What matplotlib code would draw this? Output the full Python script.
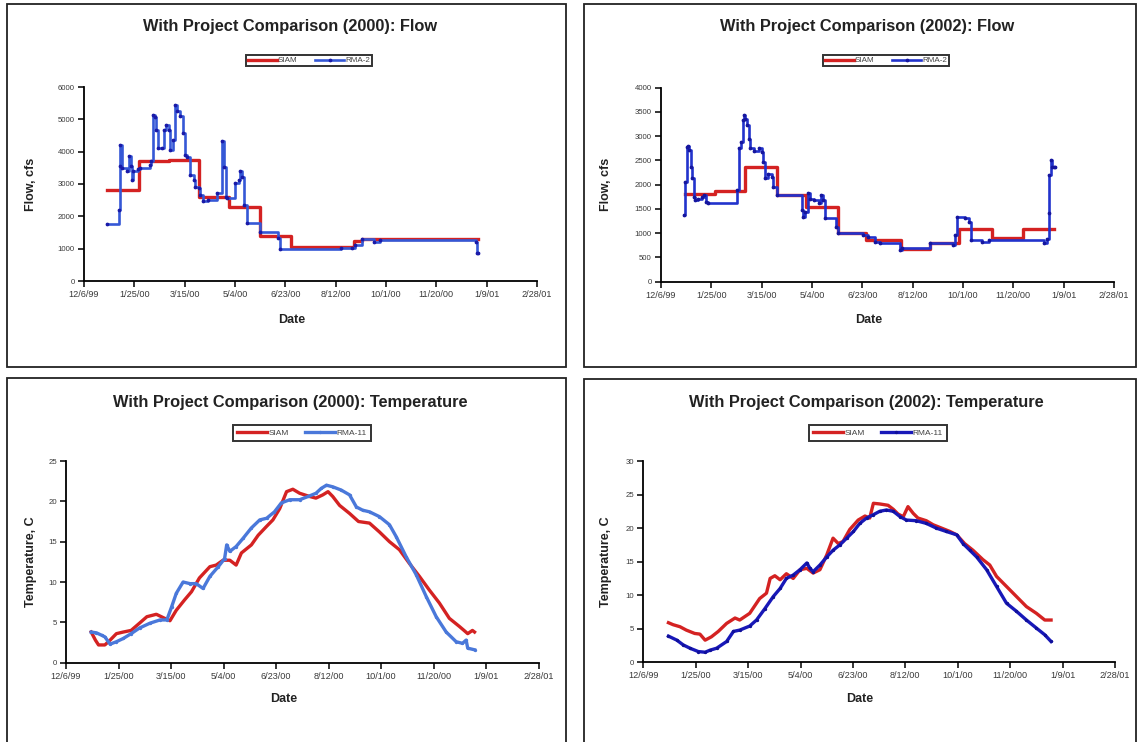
import matplotlib
matplotlib.use("Agg")
import matplotlib.pyplot as plt
from matplotlib.patches import Rectangle
from matplotlib.ticker import FormatStrFormatter
from datetime import datetime
import numpy as np
import pandas as pd

plt.rcParams['font.family'] = ['Liberation Sans', 'DejaVu Sans']

# ---------------------------------------------------------------- data
# day offsets are days from 1 Jan 2000
tick_labels = ['12/6/99', '1/25/00', '3/15/00', '5/4/00', '6/23/00',
               '8/12/00', '10/1/00', '11/20/00', '1/9/01', '2/28/01']

# Flow, 2000 run
flow00_siam_day = [-3, 29, 58, 88, 118, 149, 180, 242, 250, 365]
flow00_siam = [2800, 3700, 3750, 2600, 2300, 1400, 1050, 1250, 1300, 1300]

flow00_rma_day = [-3, 9, 9.5, 10, 11.5, 16.5, 19, 20.5, 22, 23, 28, 30, 40, 41,
                  43, 44.5, 46, 48, 51, 53, 55.5, 58, 59.5, 62, 64.5, 66, 69.5,
                  72.5, 74.5, 76, 79.5, 83, 84.5, 88, 89.5, 92.5, 97.5, 106.5,
                  111, 113, 115, 116, 124, 127.5, 129, 131, 132.5, 136, 149,
                  167, 168.5, 229, 240, 243, 250, 262, 268.5, 363, 364.5, 365.5]
flow00_rma = [1750, 2200, 3550, 4200, 3500, 3400, 3870, 3550, 3130, 3400, 3450,
              3500, 3600, 3700, 5130, 5080, 4680, 4100, 4110, 4680, 4830, 4680,
              4060, 4370, 5450, 5250, 5100, 4580, 3900, 3830, 3290, 3130, 2920,
              2870, 2670, 2460, 2520, 2720, 4320, 3540, 2610, 2560, 3030, 3130,
              3390, 3230, 2360, 1790, 1530, 1320, 1000, 1030, 1010, 1100, 1290,
              1220, 1270, 1220, 860, 860]

# Flow, 2002 run
flow02_siam_day = [-2, 28, 57, 89, 118, 150, 178, 212, 241, 270, 303, 334, 364]
flow02_siam = [1800, 1870, 2370, 1790, 1550, 1000, 850, 680, 800, 1080, 910,
               1080, 1080]

flow02_rma_day = [-3, -2, -0.5, 1, 2, 4, 5, 7, 8, 11, 14.5, 17, 18.5, 21, 49,
                  51, 53, 55, 56, 57.5, 59, 61, 62.5, 66, 71, 74, 75.5, 77.5,
                  80.5, 84, 85.5, 89, 114, 115.5, 117, 120, 122, 125.5, 130.5,
                  133, 134.5, 136.5, 148, 149.5, 175, 180, 186.5, 191.5, 211.5,
                  213, 241.5, 264.5, 266, 268, 276, 279.5, 282, 293, 299.5,
                  354, 357, 359, 359.5, 361, 362, 364, 365]
flow02_rma = [1375, 2060, 2780, 2800, 2710, 2370, 2130, 1750, 1680, 1715, 1750,
              1785, 1650, 1615, 1890, 2750, 2885, 3330, 3430, 3345, 3230, 2950,
              2750, 2700, 2750, 2680, 2470, 2130, 2230, 2160, 1960, 1785, 1475,
              1340, 1440, 1830, 1715, 1680, 1615, 1785, 1680, 1305, 1130, 1000,
              960, 925, 825, 790, 650, 690, 790, 755, 960, 1340, 1305, 1235,
              860, 825, 870, 790, 890, 1410, 2200, 2500, 2370, 2355, 2355]

# Temperature, 2000 run
temp00_siam_day = [-2, 2, 5, 11, 16, 22, 28.5, 36, 44, 51, 60, 68, 73, 79, 87,
                   93.5, 101, 111, 117, 123.5, 130, 136, 141, 150.5, 157, 165,
                   171, 177.5, 184, 190, 196.5, 206, 212, 218.5, 223.5, 228,
                   234.5, 244, 252.5, 263, 272.5, 282, 291.5, 301, 310.5, 320,
                   329.5, 339, 348.5, 353, 356.5, 361, 363]
temp00_siam = [3.8, 2.8, 2.2, 2.2, 2.8, 3.6, 3.8, 4.0, 4.9, 5.7, 6.0, 5.5, 5.2,
               6.5, 7.8, 8.8, 10.5, 11.9, 12.1, 12.7, 12.7, 12.1, 13.6, 14.6,
               15.8, 16.9, 17.7, 19.1, 21.2, 21.5, 21.0, 20.6, 20.4, 20.8, 21.2,
               20.6, 19.5, 18.5, 17.5, 17.3, 16.2, 15.0, 14.0, 12.3, 10.7, 9.0,
               7.4, 5.5, 4.5, 4.0, 3.6, 4.0, 3.8]

temp00_rma_day = [-2, 3, 8, 11, 16, 22, 28.5, 36, 44, 54, 63.5, 70, 74.5, 79,
                  85.5, 92, 98, 104.5, 111, 119, 125, 127, 130, 136, 142.5,
                  150.5, 158.5, 165, 172.5, 179, 187, 196.5, 204.5, 212, 217,
                  222, 228, 236, 244, 250.5, 256.5, 263, 272.5, 282, 288.5,
                  298, 307.5, 317, 326.5, 336, 345.5, 351.5, 355, 356.5, 363]
temp00_rma = [3.8, 3.7, 3.4, 3.2, 2.3, 2.6, 3.0, 3.6, 4.3, 4.9, 5.3, 5.3, 6.9,
              8.6, 10.0, 9.8, 9.8, 9.2, 10.7, 11.9, 12.9, 14.6, 13.8, 14.4,
              15.4, 16.7, 17.7, 17.9, 18.7, 19.8, 20.2, 20.2, 20.6, 21.0, 21.6,
              22.0, 21.8, 21.4, 20.8, 19.3, 18.9, 18.7, 18.1, 17.1, 15.6, 13.1,
              10.9, 8.2, 5.7, 3.8, 2.6, 2.4, 2.8, 1.8, 1.6]

# Temperature, 2002 run
temp02_siam_day = [-2, 2.5, 9, 15, 23, 28, 33, 39, 45.5, 53.5, 61.5, 66, 75.5,
                   85, 91.5, 95, 99.5, 104.5, 110.5, 117, 123.5, 130, 136, 142.5,
                   149, 155, 160, 164.5, 171, 179, 185.5, 190, 193.5, 199.5,
                   207.5, 212.5, 217, 222, 226.5, 231.5, 236, 244, 250.5, 258.5,
                   266.5, 273, 280.5, 288.5, 298, 304.5, 311, 320.5, 330, 339.5,
                   349, 357, 363]
temp02_siam = [5.9, 5.6, 5.3, 4.8, 4.3, 4.2, 3.3, 3.8, 4.6, 5.8, 6.6, 6.3, 7.3,
               9.5, 10.3, 12.5, 12.9, 12.3, 13.2, 12.5, 13.8, 14.0, 13.3, 13.8,
               16.0, 18.5, 17.7, 18.0, 19.8, 21.2, 21.8, 21.5, 23.7, 23.6, 23.4,
               22.8, 22.1, 21.7, 23.2, 22.2, 21.5, 21.1, 20.5, 20.0, 19.5, 19.0,
               17.7, 16.7, 15.3, 14.5, 12.8, 11.3, 9.8, 8.3, 7.3, 6.3, 6.3]

temp02_rma_day = [-2, 6, 12, 18.5, 26.5, 33, 37.5, 44, 53.5, 60, 66, 75.5, 82,
                  90, 98, 104.5, 110.5, 117, 123.5, 130, 133, 136, 142.5, 149,
                  155, 161.5, 168, 174.5, 180.5, 187, 193.5, 199.5, 206, 212.5,
                  219, 225, 234.5, 244, 253.5, 263, 273, 279, 285.5, 292, 301.5,
                  311, 320.5, 330, 339.5, 349, 357, 363]
temp02_rma = [3.9, 3.3, 2.6, 2.1, 1.6, 1.5, 1.8, 2.1, 3.1, 4.6, 4.8, 5.4, 6.3,
              8.0, 9.8, 11.0, 12.5, 13.0, 13.8, 14.8, 14.0, 13.5, 14.5, 15.7,
              16.7, 17.5, 18.5, 19.5, 20.7, 21.5, 22.0, 22.5, 22.7, 22.5, 21.7,
              21.2, 21.1, 20.7, 20.0, 19.5, 19.0, 17.7, 16.7, 15.7, 13.8, 11.3,
              8.8, 7.6, 6.3, 5.1, 4.1, 3.1]

# ---------------------------------------------------------------- helpers
W, H = 1141, 742
BASE = pd.Timestamp('2000-01-01')


def to_dates(days):
    return BASE + pd.to_timedelta(np.asarray(days, dtype=float), unit='D')


tick_dates = [datetime.strptime(s, '%m/%d/%y') for s in tick_labels]

RED = '#d42222'


def fx(px):
    return px / W


def fy(py):
    return 1 - py / H


def style_axes(ax, ymax, ystep):
    ax.set_xlim(tick_dates[0], tick_dates[-1])
    ax.set_xticks(tick_dates)
    ax.set_xticklabels(tick_labels)
    ax.set_ylim(0, ymax)
    ax.set_yticks(np.arange(0, ymax + 1e-9, ystep))
    ax.yaxis.set_major_formatter(FormatStrFormatter('%d'))
    for s in ('top', 'right'):
        ax.spines[s].set_visible(False)
    for s in ('left', 'bottom'):
        ax.spines[s].set_linewidth(1.3)
        ax.spines[s].set_color('black')
    ax.tick_params(direction='out', length=4, width=1.1, color='black',
                   labelcolor='#3a3a3a', pad=2.5)
    ax.tick_params(axis='x', labelsize=6.6)
    ax.tick_params(axis='y', labelsize=5.6)
    ax.set_facecolor('white')


def add_legend(ax, handles, labels, cx, cy, size, pad, spacing):
    leg = ax.legend(handles, labels, loc='center',
                    bbox_to_anchor=(fx(cx), fy(cy)),
                    bbox_transform=fig.transFigure, ncol=2, fontsize=size,
                    frameon=True, fancybox=False, edgecolor='black',
                    handlelength=3.6, handletextpad=0.15,
                    columnspacing=spacing, borderpad=pad, borderaxespad=0)
    leg.get_frame().set_linewidth(1.4)
    for t in leg.get_texts():
        t.set_color('#444444')


def panel_frame(x0, y0, x1, y1):
    fig.patches.append(Rectangle((fx(x0), fy(y1)), fx(x1) - fx(x0),
                                 fy(y0) - fy(y1), transform=fig.transFigure,
                                 fill=False, lw=1.3, ec='#222222'))


fig = plt.figure(figsize=(W / 100, H / 100), dpi=100)
fig.patch.set_facecolor('white')

panel_frame(7, 4, 566, 367)
panel_frame(584, 4, 1136, 367)
panel_frame(7, 378, 566, 760)
panel_frame(584, 379, 1136, 760)

# ---------------------------------------------------------------- flow 2000
ax1 = fig.add_axes([fx(84), fy(281), fx(537) - fx(84), fy(87) - fy(281)])
h1 = ax1.step(to_dates(flow00_siam_day), flow00_siam, where='post',
              color=RED, lw=2.4)[0]
h2 = ax1.step(to_dates(flow00_rma_day), flow00_rma, where='post',
              color='#3558d6', lw=1.9, marker='o', ms=1.7,
              mfc='#1a1aa8', mec='#1a1aa8')[0]
style_axes(ax1, 6000, 1000)
add_legend(ax1, [h1, h2], ['SIAM', 'RMA-2'], 309, 60.5, 5.8, 0.25, 2.2)

# ---------------------------------------------------------------- flow 2002
ax2 = fig.add_axes([fx(661), fy(281.7), fx(1114) - fx(661),
                    fy(87.7) - fy(281.7)])
h1 = ax2.step(to_dates(flow02_siam_day), flow02_siam, where='post',
              color=RED, lw=2.4)[0]
h2 = ax2.step(to_dates(flow02_rma_day), flow02_rma, where='post',
              color='#2233cc', lw=1.9, marker='o', ms=1.7,
              mfc='#16169e', mec='#16169e')[0]
style_axes(ax2, 4000, 500)
add_legend(ax2, [h1, h2], ['SIAM', 'RMA-2'], 886, 60.5, 5.8, 0.25, 2.2)

# ---------------------------------------------------------------- temp 2000
ax3 = fig.add_axes([fx(66), fy(662.7), fx(538.6) - fx(66),
                    fy(461) - fy(662.7)])
h1 = ax3.plot(to_dates(temp00_siam_day), temp00_siam, color=RED, lw=2.4)[0]
h2 = ax3.plot(to_dates(temp00_rma_day), temp00_rma, color='#4a78da', lw=2.4,
              marker='o', ms=1.4, mfc='#4a78da', mec='#4a78da')[0]
style_axes(ax3, 25, 5)
add_legend(ax3, [h1, h2], ['SIAM', 'RMA-11'], 302, 433, 6.0, 0.5, 2.0)

# ---------------------------------------------------------------- temp 2002
ax4 = fig.add_axes([fx(643.3), fy(662.3), fx(1115) - fx(643.3),
                    fy(461) - fy(662.3)])
h1 = ax4.plot(to_dates(temp02_siam_day), temp02_siam, color=RED, lw=2.4)[0]
h2 = ax4.plot(to_dates(temp02_rma_day), temp02_rma, color='#1818b8', lw=2.4,
              marker='o', ms=1.4, mfc='#10109a', mec='#10109a')[0]
style_axes(ax4, 30, 5)
add_legend(ax4, [h1, h2], ['SIAM', 'RMA-11'], 878, 433, 6.0, 0.5, 2.0)

# ---------------------------------------------------------------- text
title_kw = dict(ha='center', va='center', fontsize=11.8, fontweight='bold',
                color='#222222')
fig.text(fx(290), fy(27), 'With Project Comparison (2000): Flow', **title_kw)
fig.text(fx(867), fy(27), 'With Project Comparison (2002): Flow', **title_kw)
fig.text(fx(290), fy(403), 'With Project Comparison (2000): Temperature',
         **title_kw)
fig.text(fx(866), fy(403), 'With Project Comparison (2002): Temperature',
         **title_kw)

lab_kw = dict(ha='center', va='center', fontsize=9.0, fontweight='bold',
              color='#222222')
fig.text(fx(31), fy(184), 'Flow, cfs', rotation=90, **lab_kw)
fig.text(fx(606), fy(184), 'Flow, cfs', rotation=90, **lab_kw)
fig.text(fx(31), fy(562), 'Temperature, C', rotation=90, **lab_kw)
fig.text(fx(606), fy(562), 'Temperature, C', rotation=90, **lab_kw)

fig.text(fx(292), fy(320), 'Date', **lab_kw)
fig.text(fx(869), fy(320), 'Date', **lab_kw)
fig.text(fx(284), fy(699), 'Date', **lab_kw)
fig.text(fx(860), fy(699), 'Date', **lab_kw)

fig.savefig('out.png', dpi=100, facecolor='white')
